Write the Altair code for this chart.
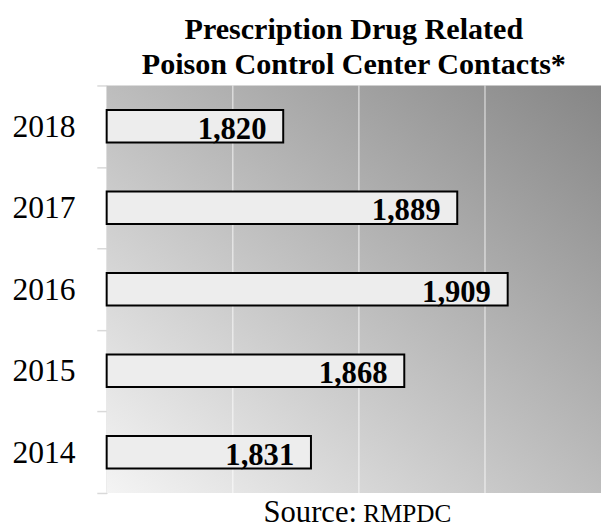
import altair as alt
import pandas as pd

years = ["2018", "2017", "2016", "2015", "2014"]
contacts = [1820, 1889, 1909, 1868, 1831]
labels = ["1,820", "1,889", "1,909", "1,868", "1,831"]
grid_values = [1800, 1850, 1900]
x_min, x_max = 1750, 1946

title_lines = ["Prescription Drug Related", "Poison Control Center Contacts*"]
source_main = "Source:"
source_small = "RMPDC"

W, H = 501, 413
SERIF = "Liberation Serif"

df = pd.DataFrame({"year": years, "contacts": contacts, "label": labels, "base": [x_min] * len(years)})
gdf = pd.DataFrame({"g": grid_values})

xscale = alt.Scale(domain=[x_min, x_max], nice=False, zero=False)
yscale = alt.Scale(domain=years, paddingInner=0, paddingOuter=0)

gradient = alt.LinearGradient(
    gradient="linear",
    stops=[alt.GradientStop(offset=0, color="#f4f4f4"),
           alt.GradientStop(offset=1, color="#868686")],
    x1=0, y1=1, x2=1, y2=0,
)

bg = alt.Chart(pd.DataFrame({"a": [0]})).mark_rect(color=gradient).encode(
    x=alt.value(0), x2=alt.value(W), y=alt.value(0), y2=alt.value(H)
)

grid = alt.Chart(gdf).mark_rule(color="#ffffff", opacity=0.55, strokeWidth=1.5).encode(
    x=alt.X("g:Q", scale=xscale, axis=None)
)

bars = alt.Chart(df).mark_bar(size=33, fill="#ededed", stroke="#000000", strokeWidth=2).encode(
    y=alt.Y("year:N", scale=yscale, sort=years, title=None,
            axis=alt.Axis(tickBand="extent", tickColor="#d9d9d9", tickSize=10, tickWidth=1.5,
                          domainColor="#d9d9d9", domainWidth=1.5, labelFont=SERIF,
                          labelFontSize=32, labelColor="#000000", labelPadding=22,
                          grid=False)),
    x=alt.X("contacts:Q", scale=xscale, axis=None),
    x2="base:Q",
)

text = alt.Chart(df).mark_text(font=SERIF, fontSize=31, fontWeight="bold", align="right",
                               baseline="alphabetic", dx=-17, dy=12.5, color="#000000").encode(
    y=alt.Y("year:N", scale=yscale, sort=years),
    x=alt.X("contacts:Q", scale=xscale),
    text="label:N",
)

src1 = alt.Chart(pd.DataFrame({"t": [source_main]})).mark_text(
    font=SERIF, fontSize=31, align="left", baseline="alphabetic", color="#000000").encode(
    x=alt.value(159), y=alt.value(H + 29), text="t:N")
src2 = alt.Chart(pd.DataFrame({"t": [source_small]})).mark_text(
    font=SERIF, fontSize=25.5, align="left", baseline="alphabetic", color="#000000").encode(
    x=alt.value(260), y=alt.value(H + 29), text="t:N")

chart = alt.layer(bg, grid, bars, text, src1, src2).properties(
    width=W, height=H,
    autosize=alt.AutoSizeParams(type="none"),
    padding={"left": 100, "top": 75, "right": 0, "bottom": 33},
    title=alt.TitleParams(text=title_lines, font=SERIF, fontSize=30.5, fontWeight="bold",
                          anchor="middle", frame="group", lineHeight=36, offset=8, dy=19,
                          color="#000000"),
).configure_view(stroke=None)

chart.save("out.html", embed_options={"renderer": "svg", "actions": False})
